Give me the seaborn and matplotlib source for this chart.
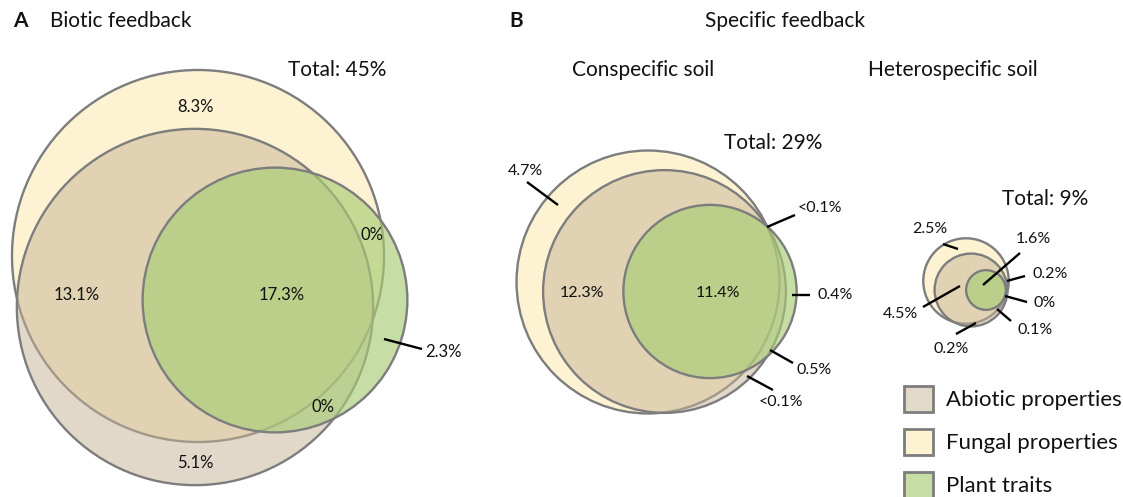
import numpy as np
import matplotlib
matplotlib.use("Agg")
import matplotlib.pyplot as plt
from matplotlib.patches import Circle, Patch
import seaborn as sns

# Variance explained (%) for each Venn region.
# Region keys: F = fungal properties, A = abiotic properties, P = plant traits
regions = ["F", "A", "P", "FA", "FP", "AP", "FAP"]
biotic_values = [8.3, 5.1, 2.3, 13.1, 0.0, 0.0, 17.3]
consp_values = [4.7, 0.05, 0.4, 12.3, 0.05, 0.5, 11.4]
hetero_values = [2.5, 0.2, 0.0, 4.5, 0.2, 0.1, 1.6]
biotic_labels = ["8.3%", "5.1%", "2.3%", "13.1%", "0%", "0%", "17.3%"]
consp_labels = ["4.7%", "<0.1%", "0.4%", "12.3%", "<0.1%", "0.5%", "11.4%"]
hetero_labels = ["2.5%", "0.2%", "0%", "4.5%", "0.2%", "0.1%", "1.6%"]
totals = ["Total: 45%", "Total: 29%", "Total: 9%"]
set_names = ["Abiotic properties", "Fungal properties", "Plant traits"]

sns.set_theme(style="white")
plt.rcParams["font.family"] = ["Lato", "DejaVu Sans"]

W, H = 1123, 497
fig = plt.figure(figsize=(W / 100, H / 100), dpi=100)
ax = fig.add_axes([0, 0, 1, 1])
ax.set_xlim(0, W)
ax.set_ylim(H, 0)
ax.set_axis_off()

EDGE = "#7d7d7d"
YELLOW = "#FDF3D3"
TAN = (0.773, 0.702, 0.584, 0.5)
GREEN = (0.66, 0.80, 0.46, 0.65)
LEG_COLORS = {"A": "#E2D9CA", "F": "#FDF3D3", "P": "#C6DDA5"}
INK = "#111111"


def set_sizes(values):
    vals = dict(zip(regions, values))
    return {s: sum(v for k, v in vals.items() if s in k) for s in "FAP"}


def venn(values, labels, centers, scale, label_pos, total, total_pos, fs):
    sizes = set_sizes(values)
    fills = {"F": YELLOW, "A": TAN, "P": GREEN}
    for s, z in zip("FAP", (2, 3, 4)):
        r = scale * np.sqrt(sizes[s])
        ax.add_patch(Circle(centers[s], r, facecolor=fills[s], edgecolor=EDGE,
                            linewidth=1.7, zorder=z))
    for key, lab in zip(regions, labels):
        pos = label_pos[key]
        ax.text(pos[0], pos[1], lab, ha="center", va="center", fontsize=fs,
                color=INK, zorder=6)
        if len(pos) > 2:
            (x1, y1), (x2, y2) = pos[2], pos[3]
            ax.plot([x1, x2], [y1, y2], color="black", lw=1.7,
                    solid_capstyle="butt", zorder=5)
    ax.text(total_pos[0], total_pos[1], total, ha="center", va="center",
            fontsize=15, color=INK)


# Panel A: biotic feedback
venn(biotic_values, biotic_labels,
     centers={"F": (198, 256), "A": (195, 307), "P": (275, 300)},
     scale=29.9,
     label_pos={"F": (195, 107), "A": (195, 463),
                "P": (443, 352, (384, 339), (422, 349)),
                "FA": (77, 295), "FP": (372, 235), "AP": (323, 407),
                "FAP": (282, 295)},
     total=totals[0], total_pos=(337, 70), fs=12)

# Panel B: conspecific soil
venn(consp_values, consp_labels,
     centers={"F": (648, 282), "A": (664.5, 291.5), "P": (710, 291.5)},
     scale=24.65,
     label_pos={"F": (525, 171, (527, 182), (558, 205)),
                "A": (781, 402, (747, 376), (773, 390)),
                "P": (835, 295, (792, 295), (810, 295)),
                "FA": (582, 293),
                "FP": (820, 208, (767, 227), (795, 215)),
                "AP": (814, 370, (770, 350), (793, 363)),
                "FAP": (718, 293)},
     total=totals[1], total_pos=(773, 143), fs=11.5)

# Panel B: heterospecific soil
venn(hetero_values, hetero_labels,
     centers={"F": (966, 281), "A": (971, 290), "P": (986, 290)},
     scale=14.4,
     label_pos={"F": (930, 229, (943, 244), (958, 249)),
                "A": (951, 349, (956, 334), (976, 323)),
                "P": (1045, 303, (1005, 296), (1027, 302)),
                "FA": (900, 314, (923, 307), (960, 286)),
                "FP": (1050, 274, (1007, 281), (1025, 276)),
                "AP": (1035, 330, (997, 309), (1011, 321)),
                "FAP": (1033, 239, (983, 285), (1020, 253))},
     total=totals[2], total_pos=(1045, 199), fs=11.5)

# Headings
ax.text(20, 21, "A", ha="center", va="center", fontsize=15, fontweight="bold",
        color=INK)
ax.text(50, 21, "Biotic feedback", ha="left", va="center", fontsize=15,
        color=INK)
ax.text(516, 21, "B", ha="center", va="center", fontsize=15, fontweight="bold",
        color=INK)
ax.text(705, 21, "Specific feedback", ha="left", va="center", fontsize=15,
        color=INK)
ax.text(572, 70, "Conspecific soil", ha="left", va="center", fontsize=15,
        color=INK)
ax.text(868, 70, "Heterospecific soil", ha="left", va="center", fontsize=15,
        color=INK)

# Legend
handles = [Patch(facecolor=LEG_COLORS[k], edgecolor=EDGE, linewidth=2)
           for k in "AFP"]
leg = ax.legend(handles, set_names, loc="upper left",
                bbox_to_anchor=(904 / W, 1 - 386 / H), frameon=False,
                fontsize=16, handlelength=1.3, handleheight=1.4,
                handletextpad=0.6, labelspacing=0.78, borderpad=0,
                borderaxespad=0)
for t in leg.get_texts():
    t.set_color(INK)

fig.savefig("out.png", dpi=100, facecolor="white")
